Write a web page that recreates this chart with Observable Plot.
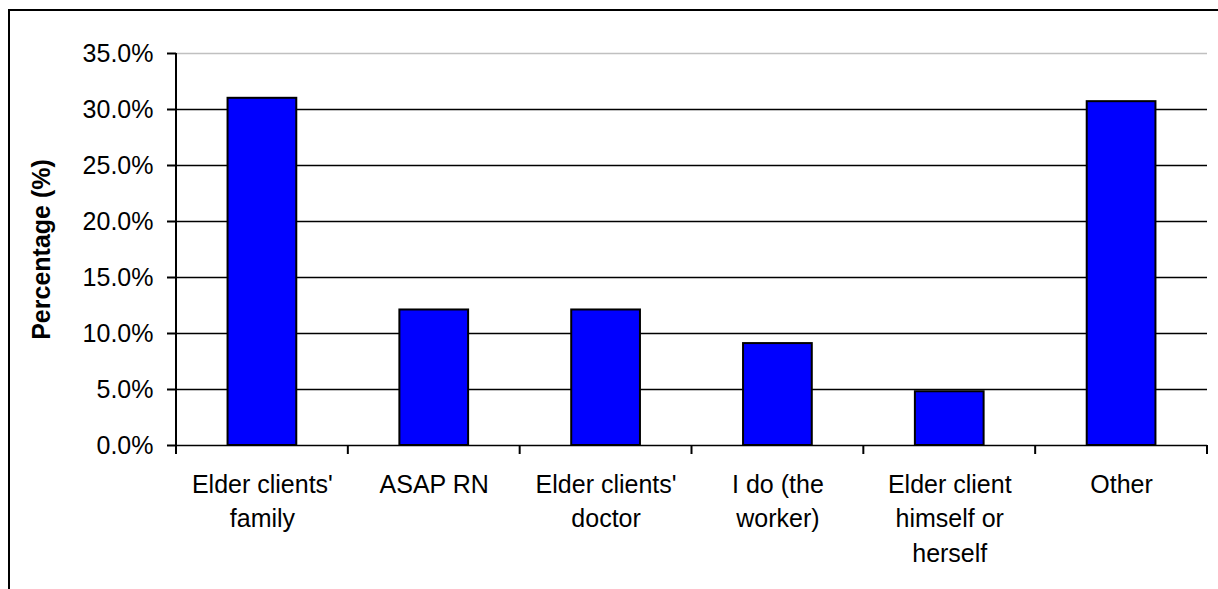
<!DOCTYPE html>
<html><head><meta charset="utf-8">
<script src="https://cdn.jsdelivr.net/npm/d3@7"></script>
<script src="https://cdn.jsdelivr.net/npm/@observablehq/plot@0.6"></script>
<style>
html,body{margin:0;padding:0;background:#fff;overflow:hidden}
#wrap{position:relative;width:1218px;height:589px}
#border{position:absolute;left:8px;top:9px;width:1300px;height:700px;border-left:2px solid #000;border-top:2px solid #000;box-sizing:border-box}
#chart{position:absolute;left:0;top:0}
</style></head><body>
<div id="wrap"><div id="border"></div><div id="chart"></div></div>
<script>
const categories = ["Elder clients' family", "ASAP RN", "Elder clients' doctor", "I do (the worker)", "Elder client himself or herself", "Other"];
const labels = ["Elder clients'\nfamily", "ASAP RN", "Elder clients'\ndoctor", "I do (the\nworker)", "Elder client\nhimself or\nherself", "Other"];
const values = [31.0, 12.1, 12.1, 9.1, 4.8, 30.7];
const yTicks = [0, 5, 10, 15, 20, 25, 30, 35];
const yTitle = "Percentage (%)";

const data = categories.map((c, i) => ({category: c, value: values[i]}));

const chart = Plot.plot({
  width: 1218, height: 589,
  marginLeft: 176, marginRight: 11, marginTop: 53, marginBottom: 144,
  style: {fontFamily: "Arial, 'Liberation Sans', sans-serif", fontSize: "25px", color: "#000", background: "transparent", overflow: "visible"},
  x: {domain: categories, paddingInner: 0.6, paddingOuter: 0.3, round: false, label: null},
  y: {domain: [0, 35], label: null},
  marks: [
    Plot.ruleY(yTicks.slice(0, -1), {stroke: "#000", strokeWidth: 1.5}),
    Plot.ruleY(yTicks.slice(-1), {stroke: "#c0c0c0", strokeWidth: 1.5}),
    Plot.barY(data, {x: "category", y: "value", fill: "#0000ff", stroke: "#000", strokeWidth: 2}),
    Plot.axisY({ticks: yTicks, tickFormat: d => d.toFixed(1) + "%", tickSize: 9, tickPadding: 14, strokeWidth: 2, label: null}),
    Plot.axisX({tickSize: 0, tickPadding: 23, tickFormat: d => labels[categories.indexOf(d)], lineHeight: 1.38, label: null}),
    Plot.text([yTitle], {text: d => d, frameAnchor: "left", rotate: -90, dx: -135, fontWeight: "bold", fontSize: 25, lineAnchor: "middle", textAnchor: "middle"})
  ]
});

document.getElementById("chart").appendChild(chart);

// axis line and band-boundary tick marks, positioned from Plot's own scales
const xs = chart.scale("x"), ys = chart.scale("y");
const gap = (xs.step - xs.bandwidth) / 2;
const bounds = categories.map(c => xs.apply(c) - gap);
bounds.push(xs.apply(categories[categories.length - 1]) + xs.bandwidth + gap);
const svg = d3.select(chart);
const y0 = ys.apply(0);
const g = svg.append("g").attr("stroke", "#000").attr("stroke-width", 2);
g.selectAll("line.t").data(bounds).join("line")
  .attr("x1", d => d).attr("x2", d => d)
  .attr("y1", y0).attr("y2", y0 + 9);
g.append("line")
  .attr("x1", xs.range[0]).attr("x2", xs.range[0])
  .attr("y1", ys.apply(35)).attr("y2", y0 + 1);
</script>
</body></html>
